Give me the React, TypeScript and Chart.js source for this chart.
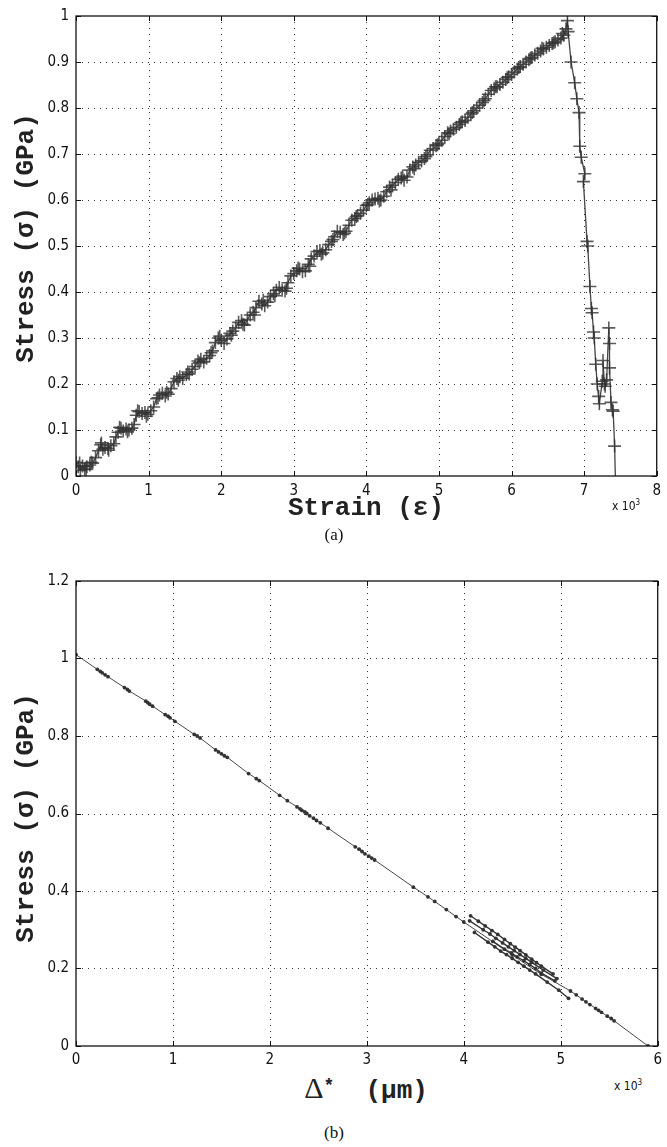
import React, { useEffect, useRef } from "react";
import { Chart, registerables } from "chart.js";
Chart.register(...registerables);

// ---------- Chart (a): Stress vs Strain ----------
const strainA = [
  0.00, 0.03, 0.06, 0.09, 0.12, 0.15, 0.19, 0.23, 0.27, 0.31, 0.34, 0.37, 0.40, 0.44, 0.48, 0.52,
  0.55, 0.58, 0.62, 0.65, 0.69, 0.73, 0.77, 0.80, 0.83, 0.87, 0.91, 0.95, 0.99, 1.03, 1.07, 1.11,
  1.15, 1.19, 1.23, 1.27, 1.31, 1.35, 1.39, 1.43, 1.47, 1.52, 1.56, 1.60, 1.64, 1.68, 1.72, 1.76,
  1.80, 1.84, 1.88, 1.92, 1.96, 2.00, 2.04, 2.08, 2.12, 2.16, 2.20, 2.24, 2.28, 2.32, 2.36, 2.40,
  2.44, 2.48, 2.52, 2.56, 2.60, 2.64, 2.68, 2.72, 2.76, 2.80, 2.84, 2.88, 2.92, 2.96, 3.00, 3.04,
  3.08, 3.12, 3.16, 3.20, 3.24, 3.28, 3.32, 3.36, 3.40, 3.44, 3.48, 3.52, 3.56, 3.60, 3.64, 3.68,
  3.72, 3.76, 3.80, 3.84, 3.88, 3.92, 3.96, 4.00, 4.04, 4.08, 4.12, 4.16, 4.20, 4.24, 4.28, 4.32,
  4.36, 4.40, 4.44, 4.48, 4.52, 4.56, 4.60, 4.64, 4.68, 4.72, 4.76, 4.80, 4.84, 4.88, 4.92, 4.96,
  5.00, 5.04, 5.08, 5.12, 5.16, 5.20, 5.24, 5.28, 5.32, 5.36, 5.40, 5.44, 5.48, 5.52, 5.56, 5.60,
  5.64, 5.68, 5.72, 5.76, 5.80, 5.84, 5.88, 5.92, 5.96, 6.00, 6.04, 6.08, 6.12, 6.16, 6.20, 6.24,
  6.28, 6.32, 6.36, 6.40, 6.44, 6.48, 6.52, 6.56, 6.60, 6.64, 6.68, 6.72, 6.75, 6.77,
  6.78, 6.82, 6.87, 6.90, 6.93, 6.94, 6.96, 7.01, 6.99, 7.04, 7.05, 7.08, 7.10, 7.11, 7.13, 7.14,
  7.16, 7.18, 7.20, 7.21, 7.25, 7.26, 7.28, 7.29, 7.31, 7.34, 7.35, 7.35, 7.37, 7.39, 7.40, 7.42
];
const stressA = [
  0.030, 0.020, 0.012, 0.022, 0.015, 0.020, 0.024, 0.028, 0.040, 0.055, 0.068, 0.058, 0.062, 0.060, 0.066, 0.070,
  0.085, 0.095, 0.104, 0.098, 0.102, 0.100, 0.104, 0.112, 0.132, 0.140, 0.136, 0.138, 0.134, 0.142, 0.150, 0.168,
  0.176, 0.180, 0.174, 0.178, 0.190, 0.205, 0.212, 0.216, 0.212, 0.220, 0.222, 0.232, 0.238, 0.250, 0.254, 0.248,
  0.256, 0.262, 0.272, 0.290, 0.300, 0.295, 0.288, 0.298, 0.310, 0.315, 0.322, 0.334, 0.338, 0.328, 0.340, 0.350,
  0.356, 0.366, 0.380, 0.374, 0.370, 0.378, 0.390, 0.396, 0.404, 0.410, 0.404, 0.402, 0.420, 0.435, 0.440, 0.446,
  0.450, 0.444, 0.446, 0.460, 0.472, 0.478, 0.488, 0.490, 0.485, 0.492, 0.503, 0.510, 0.520, 0.532, 0.530, 0.525,
  0.532, 0.545, 0.556, 0.560, 0.566, 0.571, 0.578, 0.588, 0.594, 0.600, 0.602, 0.604, 0.600, 0.608, 0.618, 0.628,
  0.632, 0.638, 0.645, 0.648, 0.643, 0.650, 0.665, 0.672, 0.676, 0.682, 0.685, 0.690, 0.698, 0.708, 0.712, 0.718,
  0.723, 0.730, 0.738, 0.746, 0.750, 0.754, 0.758, 0.764, 0.770, 0.773, 0.780, 0.787, 0.794, 0.800, 0.806, 0.812,
  0.820, 0.830, 0.838, 0.842, 0.846, 0.851, 0.856, 0.862, 0.868, 0.873, 0.878, 0.885, 0.890, 0.895, 0.900, 0.905,
  0.910, 0.915, 0.919, 0.924, 0.928, 0.932, 0.936, 0.940, 0.944, 0.948, 0.952, 0.958, 0.972, 0.990,
  0.966, 0.900, 0.855, 0.820, 0.790, 0.717, 0.693, 0.657, 0.640, 0.510, 0.500, 0.412, 0.364, 0.355, 0.313, 0.300,
  0.243, 0.200, 0.173, 0.157, 0.206, 0.251, 0.200, 0.195, 0.209, 0.322, 0.288, 0.235, 0.160, 0.144, 0.141, 0.065
];
// scatter of repeated readings around the rising curve (second marker layer)
const strainB = [
  0.05, 0.14, 0.21, 0.35, 0.45, 0.60, 0.71, 0.85, 0.97, 1.13, 1.25, 1.41, 1.54, 1.70, 1.86, 1.98,
  2.14, 2.30, 2.46, 2.58, 2.74, 2.90, 3.06, 3.22, 3.38, 3.54, 3.70, 3.86, 4.02, 4.18, 4.34, 4.50,
  4.66, 4.82, 4.98, 5.14, 5.30, 5.46, 5.62, 5.78, 5.94, 6.10, 6.26, 6.42, 6.58, 6.70
];
const stressB = [
  0.028, 0.014, 0.030, 0.072, 0.056, 0.106, 0.096, 0.142, 0.130, 0.170, 0.182, 0.208, 0.226, 0.246, 0.268, 0.304,
  0.306, 0.330, 0.350, 0.382, 0.392, 0.408, 0.452, 0.456, 0.482, 0.514, 0.528, 0.564, 0.590, 0.598, 0.622, 0.652,
  0.668, 0.694, 0.720, 0.744, 0.768, 0.790, 0.816, 0.846, 0.866, 0.888, 0.908, 0.930, 0.942, 0.962
];
// final fall of the curve to zero (no marker)
const strainTail = [7.42, 7.43];
const stressTail = [0.065, 0.0];

const xTicksA = [0, 1, 2, 3, 4, 5, 6, 7, 8];
const yTicksA = [0, 0.1, 0.2, 0.3, 0.4, 0.5, 0.6, 0.7, 0.8, 0.9, 1];

// ---------- Chart (b): Stress vs Delta* ----------
const deltaMain = [
  0.00, 0.22, 0.25, 0.27, 0.30, 0.33, 0.50, 0.53, 0.55, 0.72, 0.74, 0.76, 0.79, 0.92, 0.95, 0.97, 1.02,
  1.22, 1.25, 1.28, 1.44, 1.47, 1.50, 1.53, 1.56, 1.78, 1.86, 1.89, 2.10, 2.18, 2.28, 2.31, 2.33, 2.36,
  2.38, 2.41, 2.45, 2.48, 2.52, 2.60, 2.88, 2.92, 2.95, 2.98, 3.02, 3.05, 3.08, 3.48, 3.63, 3.70, 3.82,
  3.92, 4.00, 4.50, 4.80, 5.10, 5.16, 5.22, 5.26, 5.30, 5.36, 5.39, 5.42, 5.48, 5.52, 5.55, 5.90
];
const stressMain = [
  1.010, 0.972, 0.967, 0.963, 0.958, 0.953, 0.925, 0.920, 0.916, 0.890, 0.886, 0.882, 0.877, 0.855, 0.851, 0.847, 0.838,
  0.804, 0.800, 0.795, 0.764, 0.759, 0.754, 0.749, 0.745, 0.703, 0.690, 0.685, 0.647, 0.633, 0.617, 0.612, 0.608, 0.604,
  0.600, 0.594, 0.588, 0.582, 0.576, 0.562, 0.514, 0.508, 0.502, 0.496, 0.490, 0.485, 0.480, 0.410, 0.385, 0.373, 0.352,
  0.334, 0.320, 0.235, 0.185, 0.142, 0.132, 0.121, 0.114, 0.107, 0.097, 0.092, 0.087, 0.077, 0.071, 0.065, 0.000
];
// unloading / reloading branches (null separates branches)
const deltaLoop = [
  4.07, 4.15, 4.22, 4.29, 4.35, 4.42, 4.48, 4.53, 4.58, 4.64, 4.70, 4.75, 4.80, 4.92, null,
  4.06, 4.20, 4.27, 4.33, 4.40, 4.46, 4.52, 4.58, 4.64, 4.70, 4.82, 4.96, null,
  4.11, 4.25, 4.32, 4.38, 4.44, 4.50, 4.56, 4.62, 4.68, 4.74, 4.86, 4.98, 5.08, null,
  4.30, 4.42, 4.49, 4.55, 4.62, 4.68, 4.74, 4.80, 4.94
];
const stressLoop = [
  0.336, 0.322, 0.310, 0.298, 0.288, 0.275, 0.264, 0.255, 0.246, 0.235, 0.224, 0.215, 0.206, 0.186, null,
  0.323, 0.300, 0.289, 0.278, 0.266, 0.256, 0.246, 0.236, 0.226, 0.216, 0.196, 0.174, null,
  0.293, 0.268, 0.256, 0.245, 0.236, 0.226, 0.216, 0.206, 0.196, 0.186, 0.165, 0.144, 0.123, null,
  0.270, 0.250, 0.240, 0.230, 0.220, 0.210, 0.200, 0.188, 0.168
];

const xTicksB = [0, 1, 2, 3, 4, 5, 6];
const yTicksB = [0, 0.2, 0.4, 0.6, 0.8, 1, 1.2];

const TICK_FONT = "'Liberation Sans Narrow', 'DejaVu Sans Condensed', 'Liberation Sans', sans-serif";
const MONO = "'Liberation Mono', 'DejaVu Sans Mono', monospace";
const SERIF = "'Liberation Serif', 'DejaVu Serif', serif";

const framePlugin = {
  id: "matlabFrame",
  beforeDatasetsDraw(chart: any) {
    const { ctx, chartArea: a, scales } = chart;
    const xs = scales.x, ys = scales.y;
    ctx.save();
    ctx.strokeStyle = "#333";
    ctx.lineWidth = 1;
    ctx.setLineDash([1, 5]);
    xs.ticks.forEach((t: any) => {
      const p = Math.round(xs.getPixelForValue(t.value)) + 0.5;
      if (p <= a.left + 1 || p >= a.right - 1) return;
      ctx.beginPath();
      ctx.moveTo(p, a.top);
      ctx.lineTo(p, a.bottom);
      ctx.stroke();
    });
    ys.ticks.forEach((t: any) => {
      const p = Math.round(ys.getPixelForValue(t.value)) + 0.5;
      if (p <= a.top + 1 || p >= a.bottom - 1) return;
      ctx.beginPath();
      ctx.moveTo(a.left, p);
      ctx.lineTo(a.right, p);
      ctx.stroke();
    });
    ctx.restore();
  },
  afterDatasetsDraw(chart: any) {
    const { ctx, chartArea: a, scales } = chart;
    const xs = scales.x, ys = scales.y;
    const L = 5;
    ctx.save();
    ctx.setLineDash([]);
    ctx.strokeStyle = "#111";
    ctx.lineWidth = 1.3;
    ctx.strokeRect(a.left, a.top, a.right - a.left, a.bottom - a.top);
    ctx.lineWidth = 1;
    ctx.beginPath();
    xs.ticks.forEach((t: any) => {
      const p = Math.round(xs.getPixelForValue(t.value)) + 0.5;
      ctx.moveTo(p, a.bottom);
      ctx.lineTo(p, a.bottom - L);
      ctx.moveTo(p, a.top);
      ctx.lineTo(p, a.top + L);
    });
    ys.ticks.forEach((t: any) => {
      const p = Math.round(ys.getPixelForValue(t.value)) + 0.5;
      ctx.moveTo(a.left, p);
      ctx.lineTo(a.left + L, p);
      ctx.moveTo(a.right, p);
      ctx.lineTo(a.right - L, p);
    });
    ctx.stroke();
    ctx.restore();
  },
};

function fmt(v: any) {
  return String(Math.round(Number(v) * 10) / 10);
}

function makeScales(xMax: number, yMax: number, xt: number[], yt: number[], xPad: number) {
  return {
    x: {
      type: "linear" as const,
      min: 0,
      max: xMax,
      afterBuildTicks: (s: any) => { s.ticks = xt.map((v) => ({ value: v })); },
      afterFit: (s: any) => { s.height = 24; },
      grid: { display: false, drawTicks: false },
      border: { display: false },
      ticks: { padding: xPad, color: "#111", font: { family: TICK_FONT, size: 15 }, maxRotation: 0, callback: fmt },
    },
    y: {
      type: "linear" as const,
      min: 0,
      max: yMax,
      afterBuildTicks: (s: any) => { s.ticks = yt.map((v) => ({ value: v })); },
      afterFit: (s: any) => { s.width = 76; },
      grid: { display: false, drawTicks: false },
      border: { display: false },
      ticks: { padding: 7, color: "#111", font: { family: TICK_FONT, size: 15 }, callback: fmt },
    },
  };
}

const crossStyle = {
  showLine: false,
  pointStyle: "cross",
  pointRadius: 6.5,
  pointBorderColor: "rgba(50,50,50,0.8)",
  pointBorderWidth: 1.6,
};

function ChartA() {
  const ref = useRef<HTMLCanvasElement>(null);
  useEffect(() => {
    const main = strainA.map((x, i) => ({ x, y: stressA[i] }));
    const extra = strainB.map((x, i) => ({ x, y: stressB[i] }));
    const tail = strainTail.map((x, i) => ({ x, y: stressTail[i] }));
    const chart = new Chart(ref.current as HTMLCanvasElement, {
      type: "scatter",
      data: {
        datasets: [
          { data: extra, ...crossStyle },
          { data: main, ...crossStyle, showLine: true, borderColor: "#444", borderWidth: 1.3 },
          { data: tail, showLine: true, borderColor: "#444", borderWidth: 1.3, pointRadius: 0 },
        ],
      },
      options: {
        animation: false,
        responsive: false,
        layout: { padding: { top: 12, right: 5, left: 0, bottom: 0 } },
        plugins: { legend: { display: false }, tooltip: { enabled: false } },
        scales: makeScales(8, 1, xTicksA, yTicksA, 6),
      },
      plugins: [framePlugin],
    } as any);
    return () => chart.destroy();
  }, []);
  return <canvas ref={ref} width={667} height={500} style={{ position: "absolute", left: 0, top: 0, width: 667, height: 500 }} />;
}

function ChartB() {
  const ref = useRef<HTMLCanvasElement>(null);
  useEffect(() => {
    const main = deltaMain.map((x, i) => ({ x, y: stressMain[i] }));
    const loop = deltaLoop.map((x, i) => ({ x, y: stressLoop[i] }));
    const chart = new Chart(ref.current as HTMLCanvasElement, {
      type: "scatter",
      data: {
        datasets: [
          {
            data: main,
            showLine: true,
            borderColor: "#333",
            borderWidth: 0.9,
            pointRadius: 1.9,
            pointBackgroundColor: "#333",
            pointBorderWidth: 0,
          },
          {
            data: loop,
            showLine: true,
            spanGaps: false,
            borderColor: "#333",
            borderWidth: 1.4,
            pointRadius: 1.9,
            pointBackgroundColor: "#333",
            pointBorderWidth: 0,
          },
        ],
      },
      options: {
        animation: false,
        responsive: false,
        layout: { padding: { top: 21, right: 5, left: 0, bottom: 0 } },
        plugins: { legend: { display: false }, tooltip: { enabled: false } },
        scales: makeScales(6, 1.2, xTicksB, yTicksB, 5),
      },
      plugins: [framePlugin],
    } as any);
    return () => chart.destroy();
  }, []);
  return <canvas ref={ref} width={667} height={510} style={{ position: "absolute", left: 0, top: 560, width: 667, height: 510 }} />;
}

const center: React.CSSProperties = { position: "absolute", transform: "translate(-50%, -50%)", whiteSpace: "nowrap", lineHeight: 1 };

export default function App() {
  const yTitle: React.CSSProperties = {
    ...center,
    transform: "translate(-50%, -50%) rotate(-90deg)",
    fontFamily: MONO,
    fontWeight: "bold",
    fontSize: 26,
    color: "#222",
  };
  const exp: React.CSSProperties = { position: "absolute", fontFamily: TICK_FONT, fontSize: 12, color: "#111", whiteSpace: "nowrap" };
  return (
    <div style={{ position: "absolute", left: 0, top: 0, width: 667, height: 1147, background: "#fff", overflow: "hidden" }}>
      <ChartA />
      <ChartB />
      <div style={{ ...yTitle, left: 26, top: 238 }}>Stress (σ) (GPa)</div>
      <div style={{ ...center, left: 366, top: 508, fontFamily: MONO, fontWeight: "bold", fontSize: 26, color: "#222" }}>Strain (ε)</div>
      <div style={{ ...exp, left: 612, top: 498 }}>x 10<sup style={{ fontSize: 8 }}>3</sup></div>
      <div style={{ ...center, left: 334, top: 534, fontFamily: SERIF, fontSize: 17, color: "#111" }}>(a)</div>

      <div style={{ ...yTitle, left: 26, top: 818 }}>Stress (σ) (GPa)</div>
      <div style={{ ...center, left: 366, top: 1088, color: "#222" }}>
        <span style={{ fontFamily: SERIF, fontSize: 30 }}>Δ</span>
        <sup style={{ fontFamily: MONO, fontWeight: "bold", fontSize: 18 }}>*</sup>
        <span style={{ fontFamily: MONO, fontWeight: "bold", fontSize: 26 }}>{"\u00a0\u00a0(μm)"}</span>
      </div>
      <div style={{ ...exp, left: 614, top: 1078 }}>x 10<sup style={{ fontSize: 8 }}>3</sup></div>
      <div style={{ ...center, left: 334, top: 1132, fontFamily: SERIF, fontSize: 17, color: "#111" }}>(b)</div>
    </div>
  );
}
